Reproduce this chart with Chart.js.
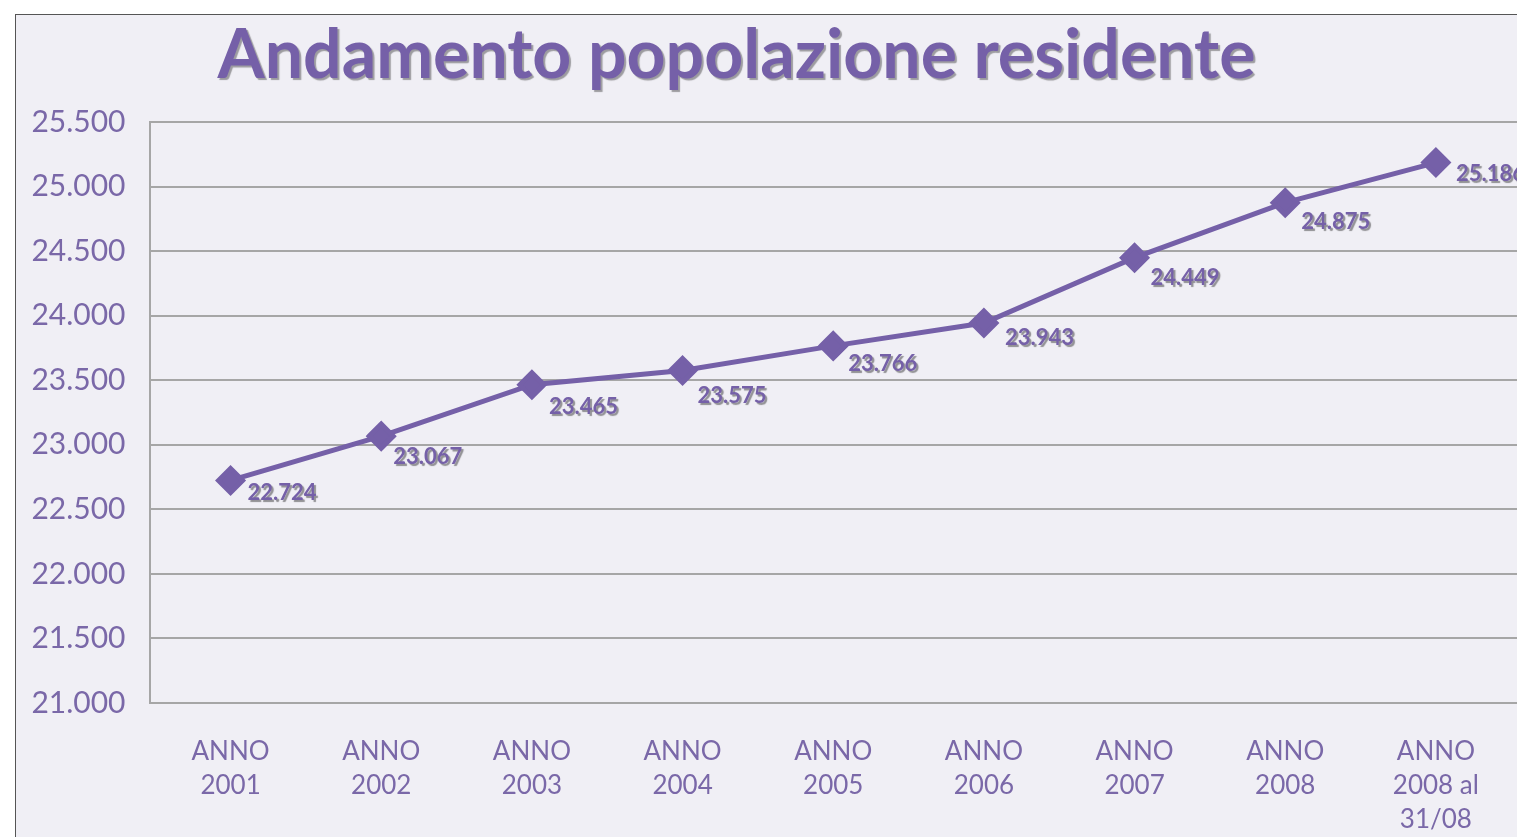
<!DOCTYPE html>
<html><head><meta charset="utf-8">
<script src="https://cdn.jsdelivr.net/npm/chart.js@4/dist/chart.umd.min.js"></script>
<style>
html,body{margin:0;padding:0;background:#fff;overflow:hidden;}
#frame{position:absolute;left:15px;top:14px;width:1502px;height:823px;background:#f0eff5;border-left:1.5px solid #555;border-top:1.5px solid #555;overflow:hidden;}
#wrap{position:absolute;left:0;top:0;width:1502px;height:823px;}
</style></head><body>
<div id="frame"><div id="wrap"><canvas id="c"></canvas></div></div>
<script>
const title = 'Andamento popolazione residente';
const categories = [['ANNO','2001'],['ANNO','2002'],['ANNO','2003'],['ANNO','2004'],['ANNO','2005'],['ANNO','2006'],['ANNO','2007'],['ANNO','2008'],['ANNO','2008 al','31/08']];
const values = [22724, 23067, 23465, 23575, 23766, 23943, 24449, 24875, 25186];
const yTicks = [21000,21500,22000,22500,23000,23500,24000,24500,25000,25500];

// data-label placement (style, pixels relative to each point)
const labelDx = [17,12,17,15,15,21,16,16,20];
const labelDy = [12,21,22,25,18,15,20,19,11];

const purple = '#7560a8';
const fmt = v => v.toLocaleString('it-IT');

const titlePlugin = {
  id:'titleP',
  afterDraw(chart){
    const ctx = chart.ctx;
    ctx.save();
    ctx.font = 'bold 68px Lato';
    ctx.fillStyle = purple;
    ctx.textAlign = 'center';
    ctx.textBaseline = 'alphabetic';
    ctx.shadowColor = 'rgba(0,0,0,0.35)';
    ctx.shadowOffsetX = 2; ctx.shadowOffsetY = 2; ctx.shadowBlur = 1;
    ctx.fillText(title, 737-16.5, 78-15.5);
    ctx.restore();
  }
};
const labelPlugin = {
  id:'labelsP',
  afterDatasetsDraw(chart){
    const ctx = chart.ctx;
    const meta = chart.getDatasetMeta(0);
    ctx.save();
    ctx.font = 'bold 22px Lato';
    ctx.fillStyle = purple;
    ctx.textAlign = 'left';
    ctx.textBaseline = 'middle';
    ctx.shadowColor = 'rgba(0,0,0,0.4)';
    ctx.shadowOffsetX = 2; ctx.shadowOffsetY = 2; ctx.shadowBlur = 1;
    meta.data.forEach((p,i)=>{
      ctx.fillText(fmt(values[i]), p.x+labelDx[i], p.y+labelDy[i]);
    });
    ctx.restore();
  }
};

new Chart(document.getElementById('c'), {
  type:'line',
  data:{
    datasets:[{
      data: values.map((v,i)=>({x:i,y:v})),
      borderColor: purple,
      backgroundColor: purple,
      borderWidth: 5,
      pointStyle:'rectRot',
      pointRadius: 12,
      pointHoverRadius: 12,
      pointBackgroundColor: purple,
      pointBorderColor: purple,
      tension: 0
    }]
  },
  options:{
    responsive:true,
    maintainAspectRatio:false,
    animation:false,
    layout:{autoPadding:false, padding:{top:107,right:0,left:0,bottom:0}},
    plugins:{legend:{display:false},tooltip:{enabled:false},title:{display:false}},
    scales:{
      x:{
        type:'linear',
        min:-0.538, max:8.545,
        afterBuildTicks(s){ s.ticks = categories.map((c,i)=>({value:i})); },
        afterFit(s){ s.height = 823-688; s.paddingLeft = 0; s.paddingRight = 0; },
        grid:{display:false, drawTicks:false},
        border:{display:true, color:'#a6a6a6', width:2},
        ticks:{
          callback:(v)=>categories[v],
          color:'#7a68a8', font:{family:'Lato', size:26, lineHeight:1.3}, padding:32, maxRotation:0, autoSkip:false
        }
      },
      y:{
        min:21000, max:25500,
        afterBuildTicks(s){ s.ticks = yTicks.map(v=>({value:v})); },
        afterFit(s){ s.width = 150-16.5; },
        grid:{color:'#a6a6a6', lineWidth:2, drawTicks:false},
        border:{display:true, color:'#a6a6a6', width:2},
        ticks:{
          callback:(v)=>fmt(v),
          color:'#7a68a8', font:{family:'Lato', size:30}, padding:24
        }
      }
    }
  },
  plugins:[titlePlugin,labelPlugin]
});
</script>
</body></html>
